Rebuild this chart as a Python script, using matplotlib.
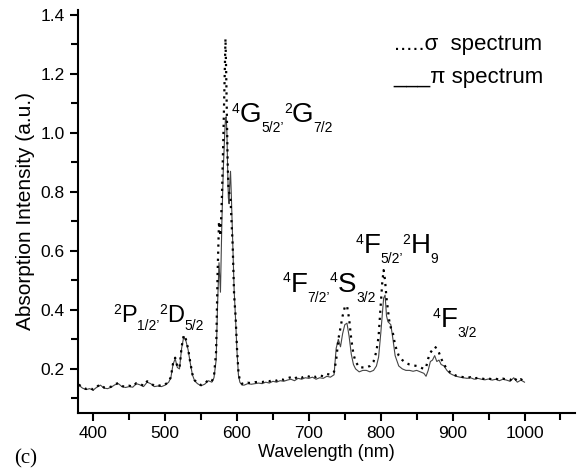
import matplotlib
matplotlib.use("Agg")
import matplotlib.pyplot as plt
from matplotlib.ticker import MultipleLocator

plt.rcParams['font.family'] = ['Liberation Sans', 'DejaVu Sans']

# wavelength grid (nm)
wl = ([380, 385, 390, 395, 400, 405, 410, 415, 420, 425, 430, 435, 440, 445, 450,
       455, 460, 465, 470, 475, 480, 485, 490, 495, 500, 505]
      + [508, 511, 514, 517, 520, 523, 526, 529, 532, 535, 538, 541, 545, 550, 555,
         560, 565, 568, 571]
      + [573, 575, 577, 579, 581, 583, 584, 585, 586, 587, 588, 589, 590, 591, 592,
         594, 596, 598, 600, 602, 604, 607]
      + [610, 615, 620, 625, 630, 635, 640, 645, 650, 655, 660, 665, 670, 675, 680,
         685, 690, 695, 700, 705, 710, 715, 720, 725, 730, 735]
      + [738, 741, 744, 747, 750, 753, 756, 759, 762, 765, 770, 775, 780, 785, 790,
         794, 797, 800, 802, 804, 806, 808, 810, 812, 814, 817, 820, 825, 830, 835,
         840, 845, 850, 855, 860, 863, 866, 869, 872, 875, 878, 881, 884, 888, 892,
         896, 900]
      + [905, 910, 915, 920, 925, 930, 935, 940, 945, 950, 955, 960, 965, 970, 975,
         980, 985, 990, 995, 1000])

pi_spec = ([0.145, 0.135, 0.130, 0.133, 0.128, 0.138, 0.145, 0.135, 0.133, 0.138, 0.146,
            0.150, 0.140, 0.137, 0.140, 0.138, 0.150, 0.146, 0.140, 0.155, 0.150, 0.140,
            0.142, 0.140, 0.145, 0.155]
           + [0.170, 0.215, 0.235, 0.205, 0.200, 0.270, 0.310, 0.295, 0.265, 0.220, 0.180,
              0.160, 0.150, 0.143, 0.148, 0.160, 0.155, 0.170, 0.230]
           + [0.420, 0.560, 0.460, 0.700, 0.880, 1.000, 1.050, 1.055, 1.000, 0.880, 0.780,
              0.760, 0.830, 0.870, 0.800, 0.640, 0.470, 0.370, 0.260, 0.180, 0.155, 0.145]
           + [0.145, 0.150, 0.148, 0.150, 0.152, 0.150, 0.155, 0.152, 0.158, 0.155, 0.160,
              0.158, 0.162, 0.165, 0.160, 0.168, 0.165, 0.170, 0.168, 0.172, 0.165, 0.170,
              0.168, 0.175, 0.172, 0.180]
           + [0.270, 0.300, 0.275, 0.320, 0.350, 0.355, 0.310, 0.250, 0.215, 0.200, 0.190,
              0.195, 0.195, 0.190, 0.195, 0.210, 0.240, 0.320, 0.380, 0.440, 0.450, 0.380,
              0.360, 0.355, 0.350, 0.300, 0.245, 0.210, 0.200, 0.195, 0.195, 0.192, 0.195,
              0.190, 0.185, 0.175, 0.195, 0.225, 0.230, 0.245, 0.225, 0.230, 0.215, 0.210,
              0.195, 0.185, 0.180]
           + [0.175, 0.172, 0.170, 0.168, 0.170, 0.165, 0.168, 0.165, 0.163, 0.166, 0.162,
              0.165, 0.160, 0.165, 0.162, 0.158, 0.170, 0.155, 0.162, 0.155])

sigma_spec = ([0.147, 0.137, 0.132, 0.136, 0.130, 0.140, 0.147, 0.137, 0.136, 0.140, 0.148,
               0.152, 0.142, 0.139, 0.143, 0.140, 0.152, 0.149, 0.143, 0.158, 0.152, 0.142,
               0.145, 0.142, 0.147, 0.157]
              + [0.172, 0.218, 0.238, 0.208, 0.203, 0.275, 0.315, 0.300, 0.268, 0.222, 0.182,
                 0.162, 0.152, 0.145, 0.150, 0.162, 0.158, 0.175, 0.260]
              + [0.520, 0.700, 0.650, 0.780, 0.980, 1.200, 1.320, 1.200, 1.060, 0.900, 0.820,
                 0.800, 0.790, 0.780, 0.720, 0.620, 0.450, 0.380, 0.270, 0.190, 0.160, 0.150]
              + [0.148, 0.153, 0.152, 0.155, 0.156, 0.155, 0.160, 0.158, 0.163, 0.160, 0.166,
                 0.163, 0.168, 0.172, 0.166, 0.175, 0.170, 0.177, 0.174, 0.178, 0.172, 0.178,
                 0.175, 0.183, 0.180, 0.190]
              + [0.230, 0.300, 0.340, 0.380, 0.410, 0.415, 0.370, 0.300, 0.250, 0.225, 0.205,
                 0.205, 0.205, 0.210, 0.225, 0.260, 0.310, 0.420, 0.490, 0.535, 0.500, 0.440,
                 0.400, 0.360, 0.340, 0.320, 0.280, 0.245, 0.230, 0.220, 0.215, 0.212, 0.210,
                 0.205, 0.200, 0.205, 0.235, 0.255, 0.265, 0.275, 0.270, 0.255, 0.235, 0.215,
                 0.200, 0.190, 0.182]
              + [0.177, 0.174, 0.172, 0.170, 0.172, 0.167, 0.170, 0.168, 0.165, 0.168, 0.164,
                 0.167, 0.163, 0.167, 0.164, 0.162, 0.172, 0.158, 0.165, 0.157])

# level labels: (x, y, parts, main font size)
labels = [
    (428, 0.36, [('2', 'sup'), ('P', 'big'), ('1/2\u2019', 'sub'),
                 ('2', 'sup'), ('D', 'big'), ('5/2', 'sub')], 17),
    (593, 1.037, [('4', 'sup'), ('G', 'big'), ('5/2\u2019', 'sub'),
                  ('2', 'sup'), ('G', 'big'), ('7/2', 'sub')], 20),
    (664, 0.461, [('4', 'sup'), ('F', 'big'), ('7/2\u2019', 'sub'),
                  ('4', 'sup'), ('S', 'big'), ('3/2', 'sub')], 20),
    (765, 0.593, [('4', 'sup'), ('F', 'big'), ('5/2\u2019', 'sub'),
                  ('2', 'sup'), ('H', 'big'), ('9', 'sub')], 20),
    (872, 0.342, [('4', 'sup'), ('F', 'big'), ('3/2', 'sub')], 20),
]

fig = plt.figure(figsize=(5.83, 4.74), dpi=100)
ax = fig.add_axes([0.134, 0.129, 0.852, 0.85])

ax.plot(wl, pi_spec, color='#444444', lw=0.8, ls='-')
ax.plot(wl, sigma_spec, color='black', lw=1.6, ls=(0, (1, 2.2)))

ax.set_xlim(379, 1070)
ax.set_ylim(0.051, 1.417)
ax.xaxis.set_major_locator(MultipleLocator(100))
ax.xaxis.set_minor_locator(MultipleLocator(50))
ax.yaxis.set_minor_locator(MultipleLocator(0.1))
ax.set_yticks([0.2, 0.4, 0.6, 0.8, 1.0, 1.2, 1.4])
ax.set_yticklabels(['0.2', '0.4', '0.6', '0.8', '1.0', '1.2', '1.4'])

for s in ['top', 'right']:
    ax.spines[s].set_visible(False)
for s in ['left', 'bottom']:
    ax.spines[s].set_linewidth(1.5)
ax.tick_params(which='major', direction='out', length=6, width=1.5, labelsize=12.5)
ax.tick_params(which='minor', direction='out', length=5, width=1.5)

ax.set_xlabel('Wavelength (nm)', fontsize=13, labelpad=2)
ax.set_ylabel('Absorption Intensity (a.u.)', fontsize=15, labelpad=4)

# build each label piece by piece so scripts can be small
renderer = fig.canvas.get_renderer()
for x, y, parts, big in labels:
    dx = 0.0
    for txt, kind in parts:
        if kind == 'big':
            size, dy = big, 0
        elif kind == 'sup':
            size, dy = 10, big * 0.34
        else:
            size, dy = 10, -big * 0.36
        t = ax.annotate(txt, xy=(x, y), xytext=(dx, dy), textcoords='offset points',
                        fontsize=size, ha='left', va='baseline')
        dx += t.get_window_extent(renderer).width * 72 / fig.dpi

ax.text(818, 1.28, '.....σ  spectrum', fontsize=16, ha='left', va='baseline')
ax.text(817, 1.17, '___π spectrum', fontsize=16, ha='left', va='baseline')

fig.text(0.024, 0.023, '(c)', fontsize=15, family='Liberation Serif')

fig.savefig('out.png', dpi=100)
